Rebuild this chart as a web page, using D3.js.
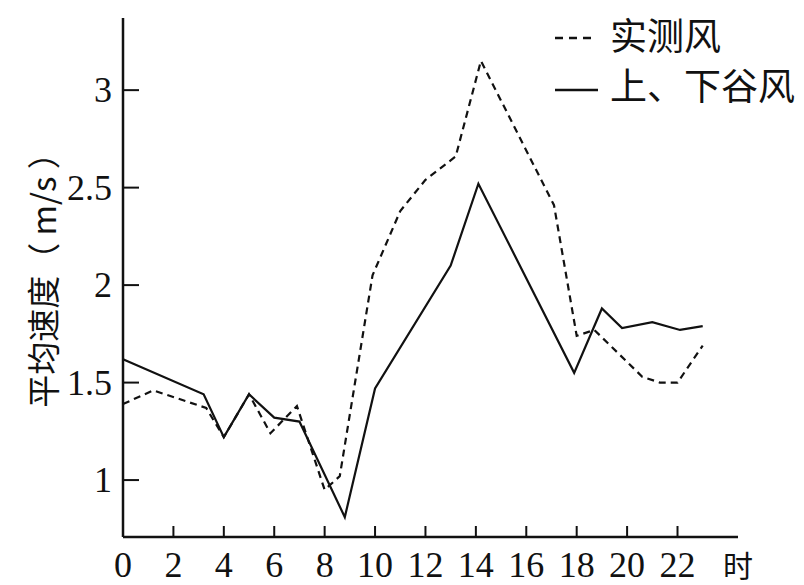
<!DOCTYPE html>
<html><head><meta charset="utf-8">
<script src="https://cdn.jsdelivr.net/npm/d3@7/dist/d3.min.js"></script>
<style>body{margin:0;background:#fff}svg{display:block}</style>
</head><body>
<svg id="c" width="804" height="585"></svg>
<script>
// Data
const xTicks = [2,4,6,8,10,12,14,16,18,20,22];
const xTickLabels = ["0","2","4","6","8","10","12","14","16","18","20","22"];
const yTicks = [1,1.5,2,2.5,3];
const valleyHours = [0,3.2,4,5,6,7,8.8,10,13,14.1,17.9,19,19.8,21,22.1,23];
const valleyValues = [1.62,1.44,1.22,1.44,1.32,1.30,0.81,1.47,2.10,2.52,1.55,1.88,1.78,1.81,1.77,1.79];
const measuredHours = [0,1.2,3.3,4,5,5.85,6.9,8,8.6,9.9,11,12,13.2,14.2,17.1,18,18.7,20.6,21.3,22,23];
const measuredValues = [1.39,1.46,1.37,1.22,1.44,1.24,1.38,0.95,1.02,2.05,2.38,2.54,2.66,3.15,2.41,1.74,1.77,1.53,1.50,1.50,1.69];
const legendLabels = ["实测风","上、下谷风"];
const yTitle = "平均速度（ m/s ）";
const xUnit = "时";

const svg = d3.select("#c");
const x = d3.scaleLinear().domain([0,24.4]).range([123,738]);
const y = d3.scaleLinear().domain([0.708,3.37]).range([537,18]);
const serif = "'Liberation Serif','DejaVu Serif',serif";
const cjk = "'Noto Sans CJK SC','Noto Sans',sans-serif";

// axes
svg.append("line").attr("x1",x(0)).attr("x2",x(0)).attr("y1",y(3.37)).attr("y2",y(0.708))
  .attr("stroke","#111").attr("stroke-width",2.5);
svg.append("line").attr("x1",x(0)).attr("x2",x(24.4)).attr("y1",y(0.708)).attr("y2",y(0.708))
  .attr("stroke","#111").attr("stroke-width",2.5);
svg.selectAll(".xt").data(xTicks).enter().append("line")
  .attr("x1",d=>x(d)).attr("x2",d=>x(d)).attr("y1",y(0.708)).attr("y2",y(0.708)-11)
  .attr("stroke","#111").attr("stroke-width",2);
svg.selectAll(".yt").data(yTicks).enter().append("line")
  .attr("x1",x(0)).attr("x2",x(0)+16).attr("y1",d=>y(d)).attr("y2",d=>y(d))
  .attr("stroke","#111").attr("stroke-width",2);
svg.selectAll(".xl").data(xTickLabels).enter().append("text")
  .attr("x",(d,i)=>x(i*2)).attr("y",577).attr("text-anchor","middle")
  .attr("font-family",serif).attr("font-size",36).attr("fill","#111").text(d=>d);
svg.selectAll(".yl").data(yTicks).enter().append("text")
  .attr("x",112).attr("y",d=>y(d)+12).attr("text-anchor","end")
  .attr("font-family",serif).attr("font-size",36).attr("fill","#111").text(d=>String(d));
svg.append("text").attr("x",738).attr("y",577).attr("text-anchor","middle")
  .attr("font-family",cjk).attr("font-size",30).attr("fill","#111").text(xUnit);
svg.append("text").attr("transform","translate(56,272) rotate(-90)").attr("text-anchor","middle")
  .attr("font-family",cjk).attr("font-size",33).attr("fill","#111").text(yTitle);

// lines
const line = d3.line().x(d=>x(d[0])).y(d=>y(d[1]));
svg.append("path").datum(measuredHours.map((h,i)=>[h,measuredValues[i]]))
  .attr("d",line).attr("fill","none").attr("stroke","#111").attr("stroke-width",2.2)
  .attr("stroke-dasharray","7,5");
svg.append("path").datum(valleyHours.map((h,i)=>[h,valleyValues[i]]))
  .attr("d",line).attr("fill","none").attr("stroke","#111").attr("stroke-width",2.2);

// legend
const lg = svg.append("g");
lg.append("line").attr("x1",555).attr("x2",595).attr("y1",38).attr("y2",38)
  .attr("stroke","#111").attr("stroke-width",2.5).attr("stroke-dasharray","8,6");
lg.append("line").attr("x1",555).attr("x2",598).attr("y1",90).attr("y2",90)
  .attr("stroke","#111").attr("stroke-width",2.5);
lg.append("text").attr("x",610).attr("y",50).attr("font-family",cjk).attr("font-size",37)
  .attr("fill","#111").text(legendLabels[0]);
lg.append("text").attr("x",610).attr("y",100).attr("font-family",cjk).attr("font-size",37)
  .attr("fill","#111").text(legendLabels[1]);
</script>
</body></html>
